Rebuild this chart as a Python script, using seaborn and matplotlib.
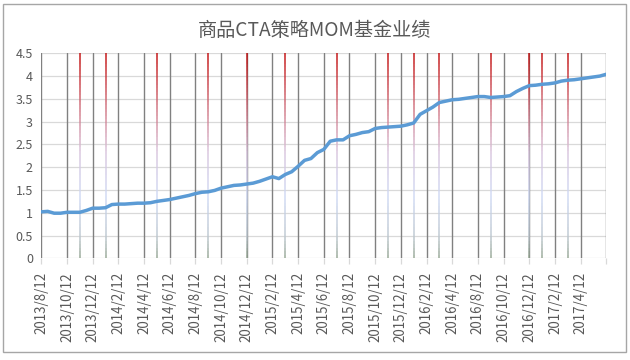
import numpy as np
import pandas as pd
import matplotlib
matplotlib.use("Agg")
import matplotlib.pyplot as plt
import seaborn as sns
from matplotlib.collections import LineCollection
from matplotlib.colors import LinearSegmentedColormap
from matplotlib.patches import Rectangle

# ---------------- data ----------------
title = "商品CTA策略MOM基金业绩"
nav = [1.02, 1.03, 0.99, 0.99, 1.01, 1.01, 1.01, 1.05, 1.10, 1.10,
       1.11, 1.18, 1.19, 1.19, 1.20, 1.21, 1.21, 1.22, 1.25, 1.27,
       1.29, 1.32, 1.35, 1.38, 1.42, 1.45, 1.46, 1.49, 1.54, 1.57,
       1.60, 1.61, 1.63, 1.65, 1.69, 1.74, 1.79, 1.75, 1.84, 1.90,
       2.02, 2.15, 2.19, 2.32, 2.39, 2.57, 2.60, 2.60, 2.69, 2.72,
       2.76, 2.78, 2.85, 2.87, 2.88, 2.89, 2.90, 2.93, 2.97, 3.16,
       3.24, 3.32, 3.42, 3.45, 3.48, 3.49, 3.51, 3.53, 3.55, 3.55,
       3.53, 3.54, 3.55, 3.57, 3.66, 3.73, 3.79, 3.80, 3.82, 3.83,
       3.85, 3.89, 3.91, 3.92, 3.94, 3.96, 3.98, 4.00, 4.04]
tick_labels = ["2013/8/12", "2013/10/12", "2013/12/12", "2014/2/12", "2014/4/12",
               "2014/6/12", "2014/8/12", "2014/10/12", "2014/12/12", "2015/2/12",
               "2015/4/12", "2015/6/12", "2015/8/12", "2015/10/12", "2015/12/12",
               "2016/2/12", "2016/4/12", "2016/8/12", "2016/10/12", "2016/12/12",
               "2017/2/12", "2017/4/12"]
event_idx = [6, 10, 18, 26, 32, 38, 46, 54, 58, 62, 70, 76, 78, 82]
event_height = 4.5
label_step = 4

df = pd.DataFrame({"idx": np.arange(len(nav)), "nav": nav})

# ---------------- style ----------------
sns.set_style("white")
plt.rcParams["font.family"] = ["Noto Sans CJK SC", "DejaVu Sans"]
txt = "#595959"

fig = plt.figure(figsize=(6.3, 3.6), dpi=100)
ax = fig.add_axes([41.3 / 630, 1 - 258.3 / 360, (606.3 - 41.3) / 630, (258.3 - 53.3) / 360])

# outer chart border
fig.patches.append(Rectangle((3 / 630, 1 - 352 / 360), 623 / 630, 348 / 360,
                             transform=fig.transFigure, fill=False,
                             edgecolor="#a6a6a6", linewidth=1.0))

n = len(nav)
ax.set_xlim(0, n - 1)
ax.set_ylim(0, 4.5)
ax.set_yticks(np.arange(0, 4.51, 0.5))
ax.set_yticklabels([("%g" % v) for v in np.arange(0, 4.51, 0.5)])

# horizontal grid
for v in np.arange(0, 4.51, 0.5):
    ax.axhline(v, color="#d9d9d9", lw=0.9, zorder=0)
# vertical grid (dark gray) at label positions
for xv in range(0, n, label_step):
    ax.axvline(xv, color="#808080", lw=1.0, zorder=1)

# gradient event lines
cmap = LinearSegmentedColormap.from_list(
    "evt", [(0.0, "#8ea08a"), (0.1, "#b9c4cc"), (0.3, "#cdd8f4"),
            (0.52, "#d7c2dc"), (0.7, "#d07a8a"), (1.0, "#c00000")])
ys = np.linspace(0, event_height, 60)
for e in event_idx:
    segs = [[(e, ys[k]), (e, ys[k + 1])] for k in range(len(ys) - 1)]
    lc = LineCollection(segs, colors=cmap((ys[:-1] + ys[1:]) / 2 / 4.5),
                        linewidths=1.1, zorder=2, alpha=0.9)
    ax.add_collection(lc)

sns.lineplot(data=df, x="idx", y="nav", ax=ax, color="#5b9bd5", lw=2.5, zorder=5)

ax.set_xticks(range(0, n, label_step))
xt = tick_labels + [""] * (len(range(0, n, label_step)) - len(tick_labels))
ax.set_xticklabels(xt, rotation=90, fontsize=9.6, color=txt)
ax.tick_params(axis="x", length=4, color="#d9d9d9", width=0.9, pad=6, bottom=True)
ax.tick_params(axis="y", length=0, pad=6, labelsize=9, labelcolor=txt)
for s in ax.spines.values():
    s.set_visible(False)
ax.set_xlabel("")
ax.set_ylabel("")

fig.text(0.5, 1 - 30 / 360, title, ha="center", va="center", fontsize=13.8, color=txt)

fig.savefig("out.png", dpi=100)
